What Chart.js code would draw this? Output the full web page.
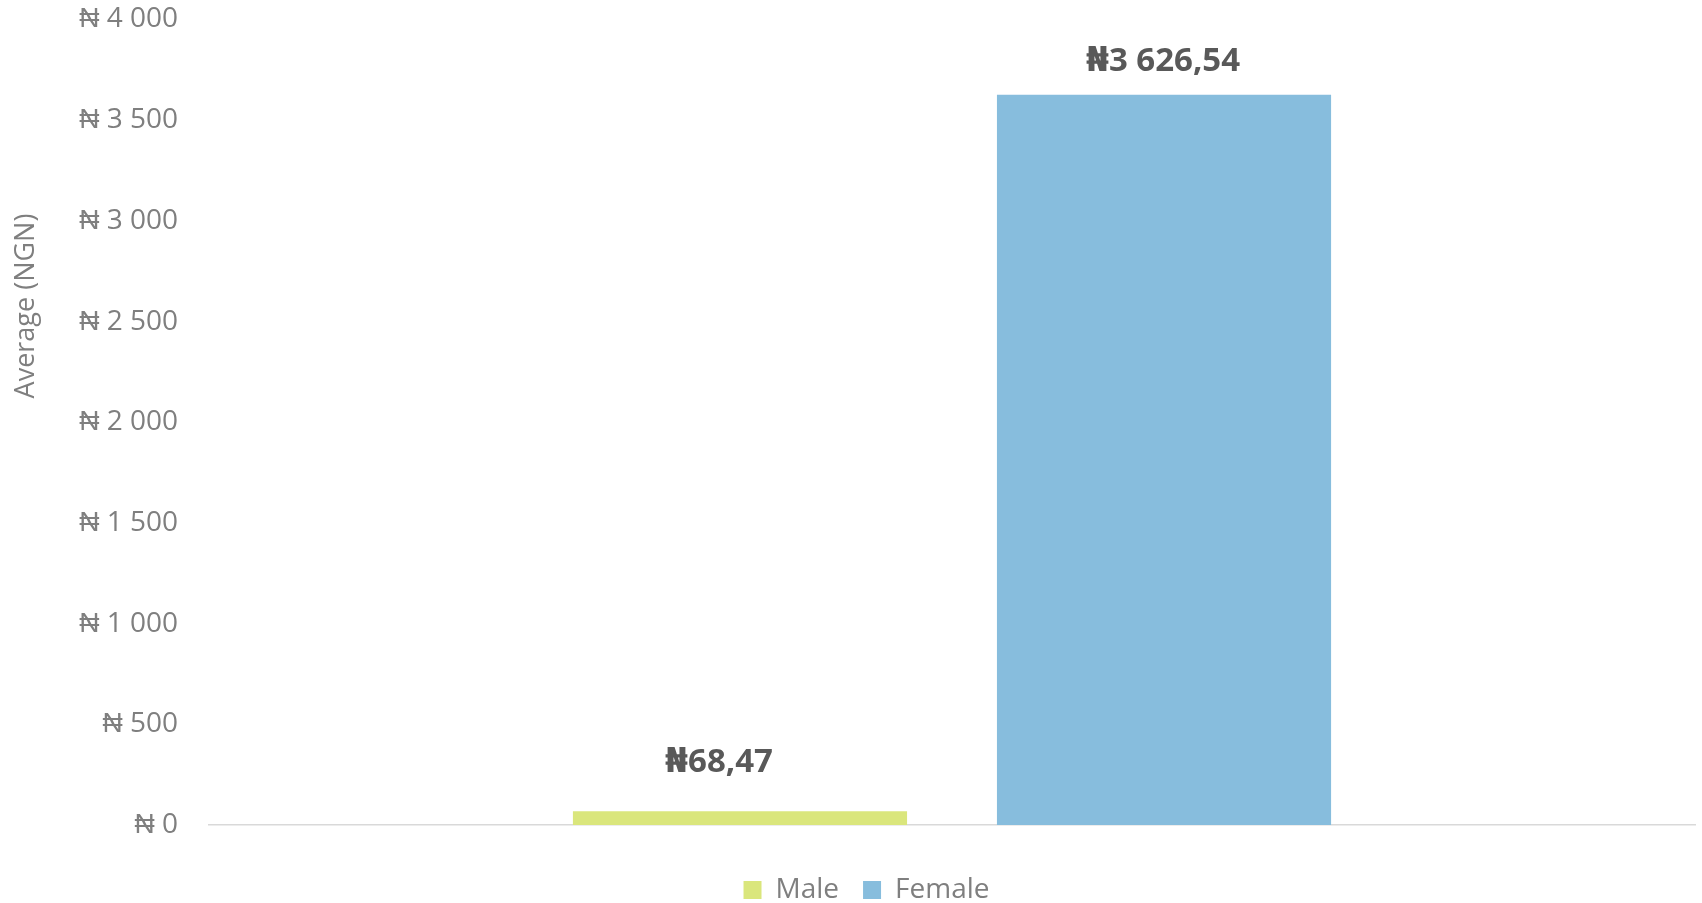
<!DOCTYPE html>
<html>
<head>
<meta charset="utf-8">
<script src="https://cdn.jsdelivr.net/npm/chart.js@4/dist/chart.umd.min.js"></script>
<style>
  html, body { margin: 0; padding: 0; background: #ffffff; overflow: hidden; }
  #wrap { position: relative; width: 1702px; height: 914px; }
</style>
</head>
<body>
<div id="wrap"><canvas id="c"></canvas></div>
<script>
const categories = ['Average'];
const seriesNames = ['Male', 'Female'];
const maleValues = [68.47];
const femaleValues = [3626.54];
const yTicks = [0, 500, 1000, 1500, 2000, 2500, 3000, 3500, 4000];
const yAxisTitle = 'Average (NGN)';

function groupThousands(n) {
  return String(Math.round(n)).replace(/\B(?=(\d{3})+(?!\d))/g, ' ');
}
function fmtLabel(v) {
  const parts = v.toFixed(2).split('.');
  return '\u20A6' + groupThousands(parseInt(parts[0], 10)) + ',' + parts[1];
}

const labelOffsets = [{dx: -21, dy: -49}, {dx: -1, dy: -33}];

const dataLabelPlugin = {
  id: 'dataLabels',
  afterDatasetsDraw(chart) {
    const ctx = chart.ctx;
    ctx.save();
    ctx.font = 'bold 33px "Open Sans", "DejaVu Sans", sans-serif';
    ctx.fillStyle = '#595959';
    ctx.textAlign = 'center';
    ctx.textBaseline = 'middle';
    chart.data.datasets.forEach((ds, di) => {
      const meta = chart.getDatasetMeta(di);
      meta.data.forEach((bar, i) => {
        const off = labelOffsets[di];
        ctx.fillText(fmtLabel(ds.data[i]), bar.x + off.dx, bar.y + off.dy);
      });
    });
    ctx.restore();
  }
};

const yTitlePlugin = {
  id: 'yTitle',
  afterDraw(chart) {
    const ctx = chart.ctx;
    ctx.save();
    ctx.font = '27px "Open Sans", sans-serif';
    ctx.fillStyle = '#7f7f7f';
    ctx.textAlign = 'center';
    ctx.textBaseline = 'middle';
    ctx.translate(26.5, 306);
    ctx.rotate(-Math.PI / 2);
    ctx.fillText(yAxisTitle, 0, 0);
    ctx.restore();
  }
};

new Chart(document.getElementById('c'), {
  type: 'bar',
  data: {
    labels: categories,
    datasets: [
      { label: seriesNames[0], data: maleValues, backgroundColor: '#dae67c', borderWidth: 0 },
      { label: seriesNames[1], data: femaleValues, backgroundColor: '#87bddd', borderWidth: 0 }
    ]
  },
  options: {
    responsive: true,
    maintainAspectRatio: false,
    animation: false,
    devicePixelRatio: 1,
    categoryPercentage: 0.5707,
    barPercentage: 0.788,
    layout: { padding: { top: 19.5, right: 7, left: 38, bottom: 0 } },
    plugins: {
      legend: {
        position: 'bottom',
        labels: {
          font: { family: '"Open Sans", sans-serif', size: 28 },
          color: '#7f7f7f',
          boxWidth: 18,
          boxHeight: 18,
          padding: 24
        }
      },
      tooltip: { enabled: false }
    },
    scales: {
      x: {
        grid: { display: false },
        border: { display: true, color: '#d9d9d9', width: 1.5 },
        ticks: { display: false },
        afterFit(scale) { scale.height = 27; scale.paddingLeft = 0; scale.paddingRight = 0; }
      },
      y: {
        min: 0,
        max: 4000,
        afterBuildTicks(scale) { scale.ticks = yTicks.map(v => ({ value: v })); },
        grid: { display: false, drawTicks: false },
        border: { display: false },
        ticks: {
          padding: 31,
          color: '#7f7f7f',
          font: { family: '"Open Sans", sans-serif', size: 28 },
          callback: (v) => '\u20A6 ' + groupThousands(v)
        },
        title: { display: false },
        afterFit(scale) { scale.width = 171; scale.paddingTop = 0; scale.paddingBottom = 0; }
      }
    }
  },
  plugins: [dataLabelPlugin, yTitlePlugin]
});
</script>
</body>
</html>
